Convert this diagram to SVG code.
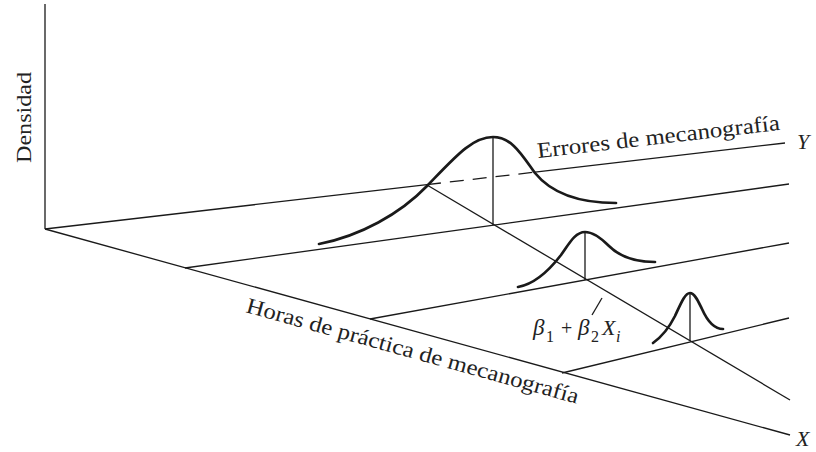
<svg xmlns="http://www.w3.org/2000/svg" width="816" height="452" viewBox="0 0 816 452">
<style>
.ln{stroke:#1a1a1a;stroke-width:1.3;fill:none;stroke-linecap:butt}
.bell{stroke:#1a1a1a;stroke-width:2.7;fill:none;stroke-linecap:round}
.t{font-family:"Liberation Serif","Times New Roman",serif;font-size:22px;fill:#222}
.it{font-style:italic}
.sub{font-size:16px}
</style>
<rect width="816" height="452" fill="#fff"/>
<g id="connectors">
<line class="ln" x1="45" y1="4" x2="45" y2="229"/>
<line class="ln" x1="45" y1="229" x2="427" y2="184.6"/>
<line class="ln" x1="427" y1="184.6" x2="535" y2="172.1" stroke-dasharray="14 9"/>
<line class="ln" x1="535" y1="172.1" x2="785" y2="143"/>
<line class="ln" x1="45" y1="229" x2="790" y2="435"/>
<line class="ln" x1="185" y1="268" x2="789" y2="184"/>
<line class="ln" x1="370" y1="319" x2="789" y2="243"/>
<line class="ln" x1="562" y1="373" x2="789" y2="318"/>
<line class="ln" x1="427" y1="185" x2="790" y2="400"/>
<line class="ln" x1="493" y1="137" x2="493" y2="225"/>
<line class="ln" x1="585" y1="232" x2="585" y2="280"/>
<line class="ln" x1="690" y1="293" x2="690" y2="341"/>
<line class="ln" x1="602" y1="298" x2="592" y2="315"/>
</g>
<g id="bell1">
<path class="bell" d="M319,244 C360,236 400,214 427,186 C455,157 472,137 493,137 C512,137 522,155 535,173 C548,189 572,203 616,203"/>
</g>
<g id="bell2">
<path class="bell" d="M518,287 C535,284 551,268 561,255 C569,244 575,232 585,232 C594,232 603,240 609,246 C619,256 632,262 655,262"/>
</g>
<g id="bell3">
<path class="bell" d="M653,343 C660,338 669,328 675,316 C681,303 685,293 690,293 C695,293 699,303 702,309 C706,318 712,329 723,329"/>
</g>
<g id="labels">
<text class="t" transform="translate(31,163) rotate(-90)" x="0" y="0" textLength="91" lengthAdjust="spacingAndGlyphs">Densidad</text>
<text class="t" transform="rotate(-6.63 538 158)" x="538" y="158" textLength="244" lengthAdjust="spacingAndGlyphs">Errores de mecanografía</text>
<text class="t it" x="797" y="149">Y</text>
<text class="t" transform="rotate(15.47 245 312)" x="245" y="312" textLength="344" lengthAdjust="spacingAndGlyphs">Horas de práctica de mecanografía</text>
<text class="t it" x="796" y="446">X</text>
<text class="t it" x="533" y="335" style="font-size:23px">β</text>
<text class="t sub" x="546" y="342">1</text>
<text class="t" x="561" y="335" style="font-size:20px">+</text>
<text class="t it" x="578" y="335" style="font-size:23px">β</text>
<text class="t sub" x="591" y="342">2</text>
<text class="t it" x="602" y="335">X</text>
<text class="t it sub" x="616" y="342">i</text>
</g>
</svg>
